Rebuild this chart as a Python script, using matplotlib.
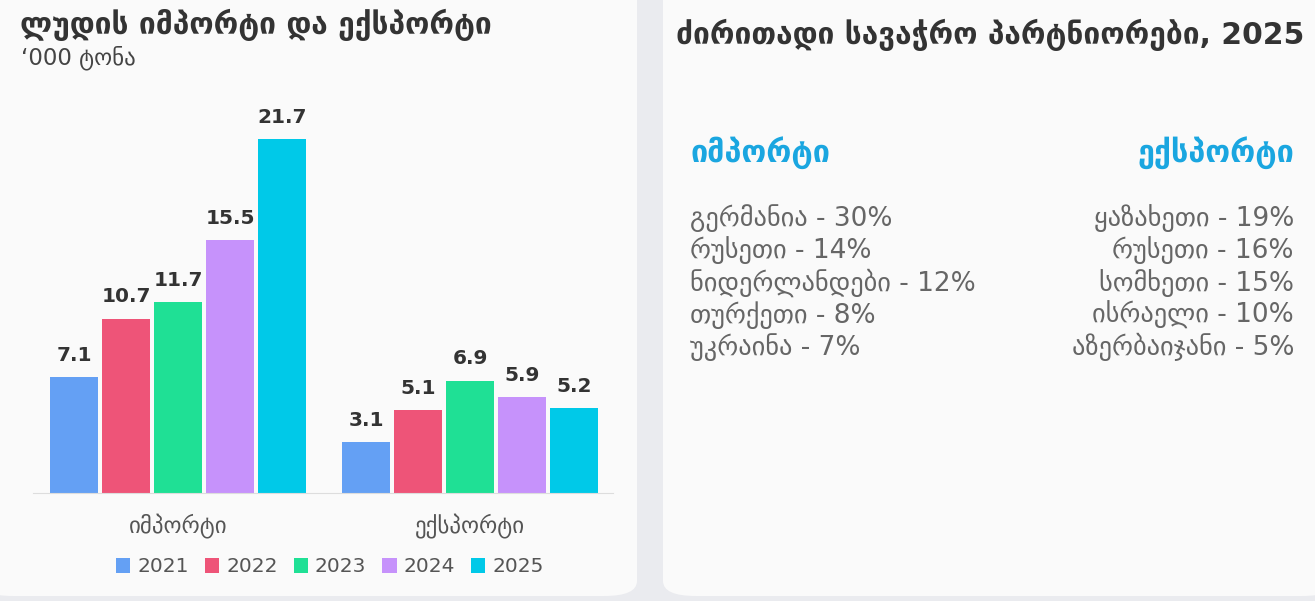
import matplotlib
matplotlib.use("Agg")
import matplotlib.pyplot as plt
import numpy as np
from matplotlib.patches import FancyBboxPatch, Patch

plt.rcParams["font.family"] = ["DejaVu Sans"]

# data
years = ["2021", "2022", "2023", "2024", "2025"]
categories = ["იმპორტი", "ექსპორტი"]
imports = [7.1, 10.7, 11.7, 15.5, 21.7]
exports = [3.1, 5.1, 6.9, 5.9, 5.2]
colors = ["#64a0f4", "#ee5478", "#1fe095", "#c692fb", "#00c9e8"]

title_left = "ლუდის იმპორტი და ექსპორტი"
subtitle_left = "‘000 ტონა"
title_right = "ძირითადი სავაჭრო პარტნიორები, 2025"
import_partners = ["გერმანია - 30%", "რუსეთი - 14%", "ნიდერლანდები - 12%",
                   "თურქეთი - 8%", "უკრაინა - 7%"]
export_partners = ["ყაზახეთი - 19%", "რუსეთი - 16%", "სომხეთი - 15%",
                   "ისრაელი - 10%", "აზერბაიჯანი - 5%"]

W, H = 1315, 601
fig = plt.figure(figsize=(W / 100, H / 100), dpi=100)
fig.patch.set_facecolor("#eaebef")


def px(x, y):
    return x / W, 1 - y / H


# panels
for x0, x1 in [(-20, 637), (663, 1335)]:
    fig.patches.append(FancyBboxPatch(
        (x0 / W, 1 - 596 / H), (x1 - x0) / W, 620 / H,
        boxstyle="round,pad=0,rounding_size=0.025", transform=fig.transFigure,
        facecolor="#fafafa", edgecolor="none", zorder=-5))

# bar chart
ax = fig.add_axes([33 / W, 1 - 493 / H, (613 - 33) / W, (493 - 95) / H])
ax.set_facecolor("none")
ax.set_zorder(2)
pitch = 52 / 292
width = 48 / 292
x = np.arange(len(categories))
for i, (yr, c) in enumerate(zip(years, colors)):
    vals = [imports[i], exports[i]]
    pos = x + (i - 2) * pitch
    bars = ax.bar(pos, vals, width=width, color=c, label=yr)
    for b, v in zip(bars, vals):
        ax.text(b.get_x() + b.get_width() / 2, v + 0.75, f"{v}",
                ha="center", va="bottom", fontsize=14.5, fontweight="bold",
                color="#333333")

ax.set_xlim(-0.497, 1.49)
ax.set_ylim(0, (493 - 95) / 16.3)
for s in ["top", "right", "left"]:
    ax.spines[s].set_visible(False)
ax.spines["bottom"].set_color("#dddddd")
ax.set_yticks([])
ax.set_xticks(x)
ax.set_xticklabels(categories, fontsize=16.5, color="#555555")
ax.tick_params(axis="x", length=0, pad=15)

handles = [Patch(facecolor=c, label=y) for y, c in zip(years, colors)]
fig.legend(handles=handles, loc="center", bbox_to_anchor=px(330, 567),
           ncol=5, frameon=False, fontsize=14.5, handlelength=0.7,
           handleheight=0.7, handletextpad=0.35, columnspacing=0.8,
           labelcolor="#555555")

# left titles
fig.text(*px(20, 25), title_left, fontsize=21.5, fontweight="bold",
         color="#333333", va="center", ha="left")
fig.text(*px(21, 58), subtitle_left, fontsize=16.5, color="#444444",
         va="center", ha="left")

# right panel
fig.text(*px(676, 35), title_right, fontsize=21.5, fontweight="bold",
         color="#333333", va="center", ha="left")
fig.text(*px(690, 153), categories[0], fontsize=22, fontweight="bold",
         color="#1aa6e0", va="center", ha="left")
fig.text(*px(1294, 153), categories[1], fontsize=22, fontweight="bold",
         color="#1aa6e0", va="center", ha="right")
row_y = [218, 250, 283, 315, 347]
for yy, a, b in zip(row_y, import_partners, export_partners):
    fig.text(*px(690, yy), a, fontsize=19, color="#666666",
             va="center", ha="left")
    fig.text(*px(1294, yy), b, fontsize=19, color="#666666",
             va="center", ha="right")

fig.savefig("out.png", dpi=100, facecolor=fig.get_facecolor())
